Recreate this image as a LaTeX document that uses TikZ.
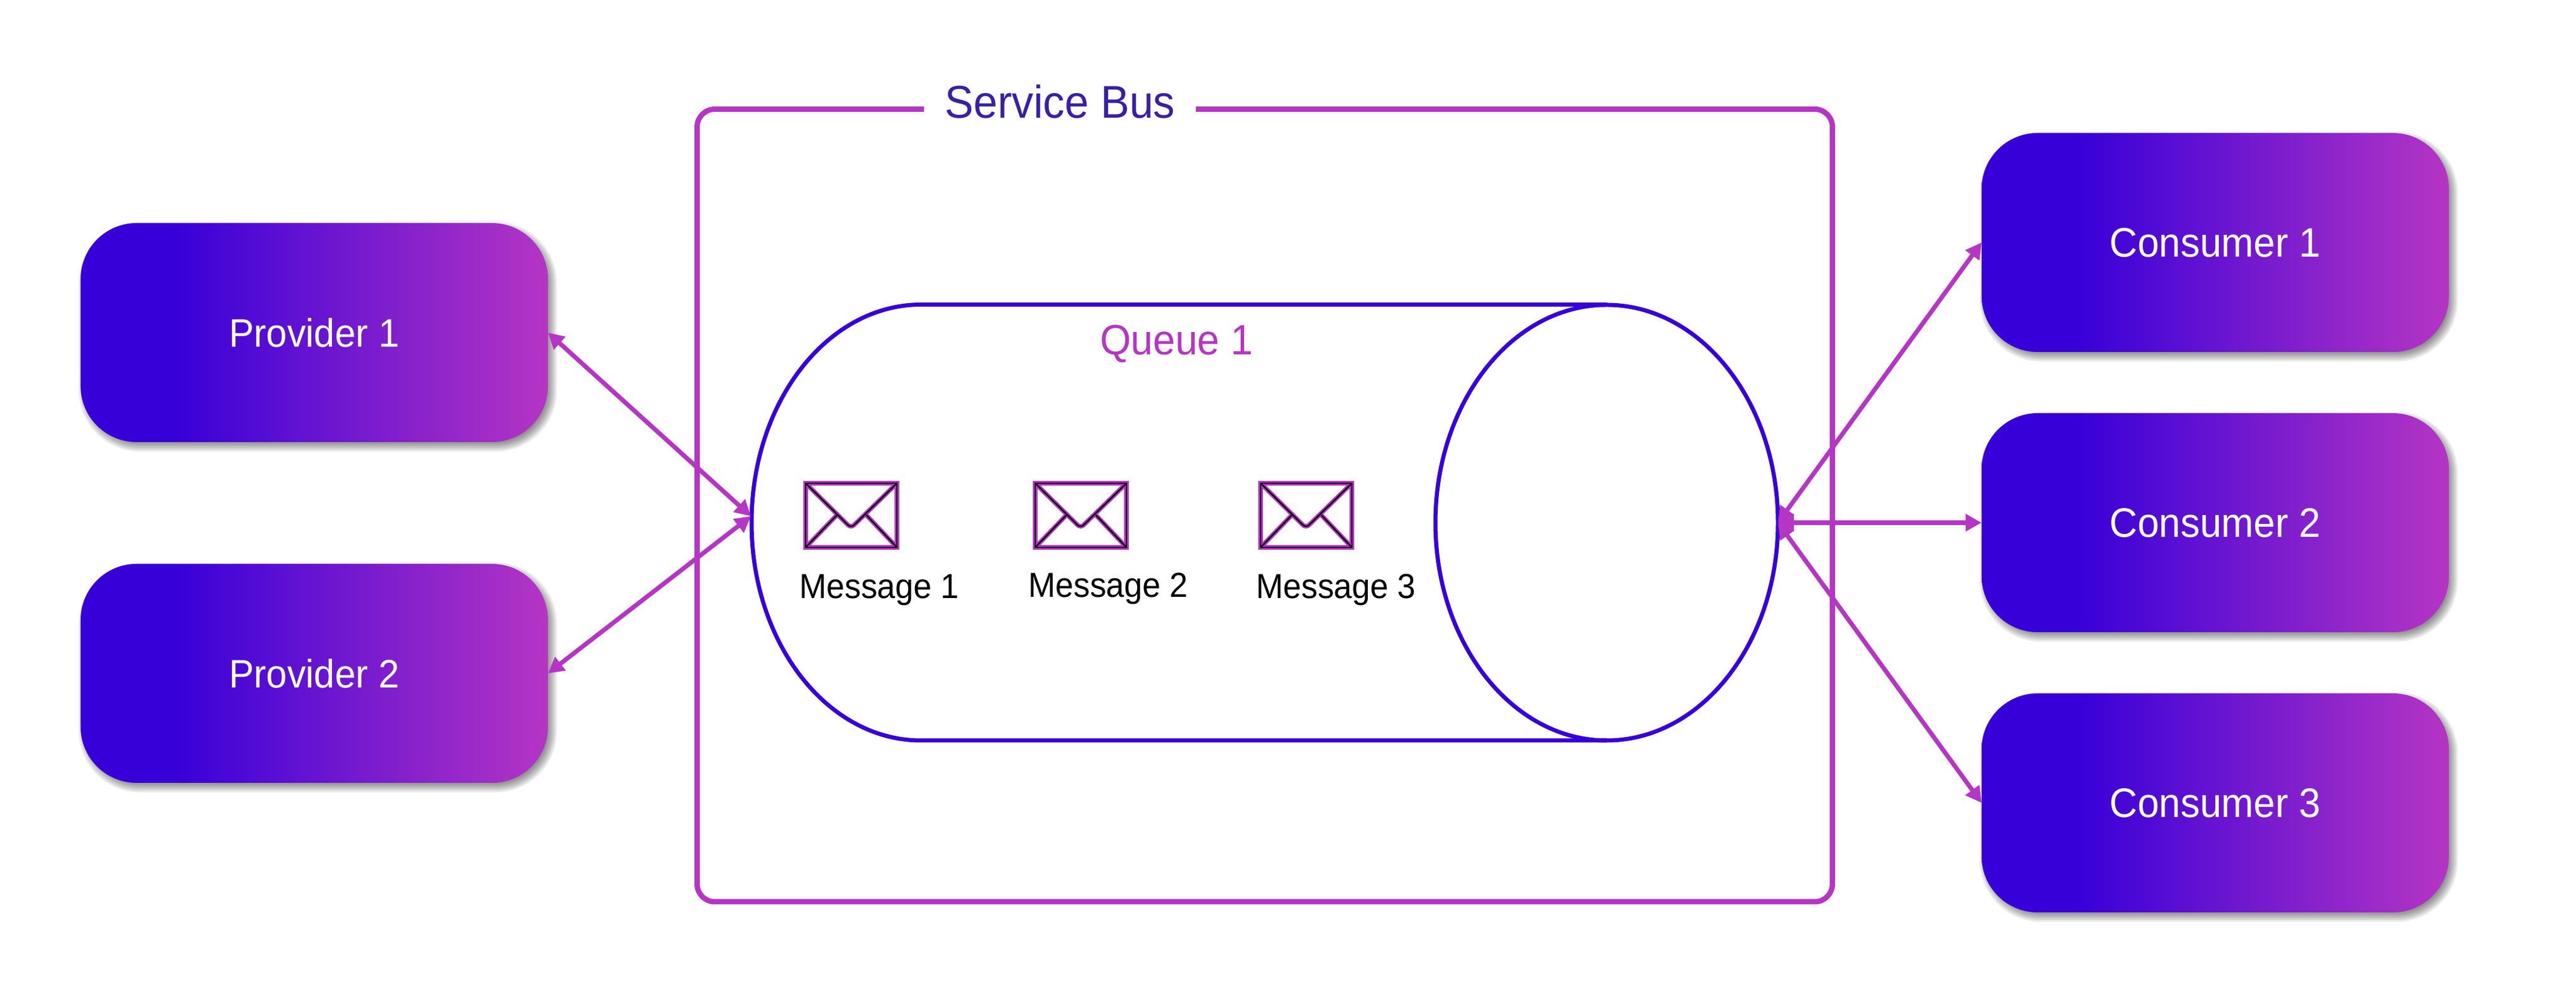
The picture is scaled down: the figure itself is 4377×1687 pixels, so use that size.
\documentclass[tikz,border=0pt]{standalone}
\usepackage{fontspec}
\setmainfont[FakeStretch=0.94]{Liberation Sans}
\usetikzlibrary{arrows.meta,shapes.geometric}
\definecolor{deepblue}{HTML}{3700D8}
\definecolor{magent}{HTML}{B535C4}
\definecolor{titleblue}{HTML}{3B1FA3}
\pgfdeclarehorizontalshading{boxgrad}{100bp}{
  color(0bp)=(deepblue);
  color(25bp)=(deepblue);
  color(35bp)=(deepblue);
  color(75bp)=(magent);
  color(100bp)=(magent)}
\tikzset{
  x=0.2pt,y=-0.2pt,
  gbox/.style={rectangle,shading=boxgrad,rounded corners=19pt,minimum width=158.8pt,minimum height=74.4pt,
    inner sep=0pt,outer sep=0pt,text=white,text depth=0pt,font=\fontsize{13.5pt}{16pt}\selectfont},
  shadowlayer/.style={fill=black,fill opacity=0.085},
  frameline/.style={draw=magent,line width=1.8pt},
  queueline/.style={draw=deepblue,line width=1.4pt},
  queuecap/.style={ellipse,draw=deepblue,line width=1.4pt,inner sep=0pt,outer sep=0pt,minimum width=116.4pt,minimum height=148pt},
  link/.style={draw=magent,line width=1.5pt,{Triangle[length=5.4pt,width=5.6pt]}-{Triangle[length=5.4pt,width=5.6pt]}},
  msgtext/.style={anchor=base,inner sep=0pt,font=\fontsize{11.8pt}{14pt}\selectfont},
  titletext/.style={anchor=base,inner sep=0pt,text=titleblue,font=\fontsize{15.6pt}{18pt}\selectfont},
  queuetext/.style={anchor=base,inner sep=0pt,text=magent,font=\fontsize{14.4pt}{17pt}\selectfont},
  envelope/.pic={
    \foreach \c/\w in {magent/1.5pt,black/0.5pt}{
      \draw[draw=\c,line width=\w,line join=miter] (4,4) rectangle (159,113);
      \draw[draw=\c,line width=\w,rounded corners=1.4pt] (4,4) -- (81,80) -- (159,4);
      \draw[draw=\c,line width=\w] (4,113) -- (57,58) (159,113) -- (107,58);
    }
  }
}
\newcommand{\boxnode}[5][]{%
  \foreach \d in {-6,-3,0,3,6,9}{
    \fill[shadowlayer,rounded corners={(95+\d)*0.2pt}] (#3-\d+6,#4-\d+7) rectangle (#3+794+\d+6,#4+372+\d+7);
  }
  \node[gbox,#1] (#2) at (#3+397,#4+186) {#5};
}
\begin{document}
\begin{tikzpicture}
\useasboundingbox (0,0) rectangle (4377,1687);
\fill[white] (0,0) rectangle (4377,1687);

\boxnode{p1}{137}{379}{Provider 1}
\boxnode{p2}{137}{958}{Provider 2}
\boxnode[font=\fontsize{14pt}{16pt}\selectfont]{c1}{3367}{226}{Consumer 1}
\boxnode[font=\fontsize{14pt}{16pt}\selectfont]{c2}{3367}{702}{Consumer 2}
\boxnode[font=\fontsize{14pt}{16pt}\selectfont]{c3}{3367}{1178}{Consumer 3}

% Service Bus frame
\draw[frameline,rounded corners=6pt] (1570,185.5) -- (1184.5,185.5) -- (1184.5,1532) -- (3113.5,1532) -- (3113.5,185.5) -- (2032,185.5);
\node[titletext] (sb) at (1801,201) {Service Bus};

% Queue
\node[queuecap] (qe) at (2730,888) {};
\draw[queueline] (2730,517.5) -- (1565,517.5)
  .. controls (1406,517.5) and (1277,683) .. (1277,888)
  .. controls (1277,1093) and (1406,1258) .. (1565,1258) -- (2730,1258);
\node[queuetext] (qt) at (1999,603) {Queue 1};
\coordinate (qL) at (1276,877);

% Messages
\pic (e1) at (1365,817) {envelope};
\pic (e2) at (1755,817) {envelope};
\pic (e3) at (2138,817) {envelope};
\node[msgtext] (m1) at (1494,1017) {Message 1};
\node[msgtext] (m2) at (1883,1015) {Message 2};
\node[msgtext] (m3) at (2270,1017) {Message 3};

% Connectors
\draw[link] (p1.east) -- (qL);
\draw[link] (p2.east) -- (qL);
\draw[link] (qe.east) -- (c1.west);
\draw[link] (qe.east) -- (c2.west);
\draw[link] (qe.east) -- (c3.west);
\end{tikzpicture}
\end{document}
